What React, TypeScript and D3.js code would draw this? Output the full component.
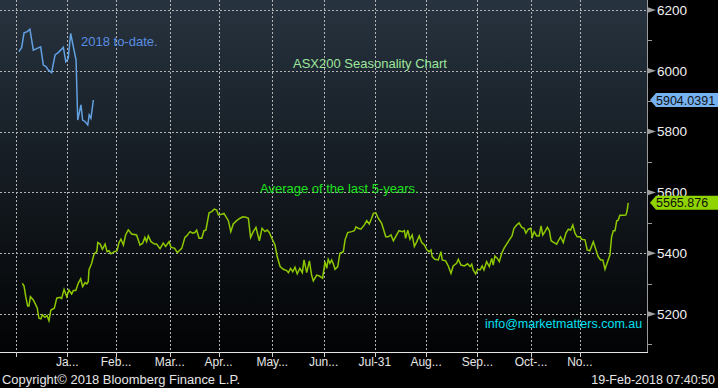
import { useEffect, useRef } from 'react';
import * as d3 from 'd3';

const width = 718;
const height = 388;

// seasonal year measured in trading days, first tick = start of December
const monthTicks = [0, 21, 41, 63, 83, 105, 126, 147, 168, 189, 211, 231];
const monthLabels = ['', 'Ja...', 'Feb...', 'Mar...', 'Apr...', 'May...', 'Jun...', 'Jul-31', 'Aug...', 'Sep...', 'Oct-...', 'No...'];

const majorTicks = [5200, 5400, 5600, 5800, 6000, 6200];
const minorTicks = [5100, 5300, 5500, 5700, 5900, 6100];

// [trading day, ASX200 level]
const ytd2018: [number, number][] = [
  [1.2, 6063], [2.3, 6076], [3.3, 6125], [4.6, 6129], [5.7, 6137], [7.1, 6068], [8.7, 6074],
  [10.1, 6079], [11.2, 6019], [12.3, 6014], [13.2, 6003], [14.6, 5994], [16.0, 6052], [17.3, 6060],
  [19.4, 6077], [20.4, 6030], [21.4, 6041], [22.4, 6123], [23.5, 6079], [24.6, 6036], [25.3, 5838],
  [26.6, 5888], [27.3, 5838], [28.3, 5833], [29.4, 5822], [30.0, 5855], [30.7, 5844], [31.7, 5904],
];

const avg5yr: [number, number][] = [
  [2.6, 5301], [3.3, 5292], [4.0, 5257], [4.8, 5226], [5.3, 5226], [5.9, 5257], [7.1, 5246],
  [8.1, 5230], [8.7, 5220], [9.4, 5186], [10.2, 5184], [10.8, 5197], [11.9, 5189], [12.7, 5195],
  [13.5, 5178], [14.3, 5213], [15.7, 5219], [16.7, 5252], [18.0, 5255], [18.7, 5251], [19.7, 5281],
  [20.8, 5257], [21.7, 5279], [22.8, 5266], [23.5, 5277], [24.5, 5277], [25.5, 5301], [26.5, 5316],
  [27.3, 5290], [28.3, 5303], [29.0, 5299], [29.6, 5306], [29.9, 5345], [31.0, 5367], [32.0, 5398],
  [33.1, 5405], [33.5, 5435], [34.5, 5430], [35.4, 5413], [36.5, 5430], [37.3, 5405], [38.1, 5408],
  [38.9, 5398], [40.3, 5405], [41.4, 5408], [42.2, 5435], [43.0, 5446], [44.0, 5427], [44.9, 5460],
  [46.0, 5477], [47.4, 5463], [49.4, 5460], [50.8, 5427], [51.9, 5433], [52.8, 5452], [53.5, 5438],
  [54.2, 5457], [55.3, 5438], [56.7, 5430], [57.6, 5430], [59.0, 5415], [60.3, 5433], [61.3, 5422],
  [62.7, 5438], [63.5, 5420], [65.0, 5416], [66.1, 5402], [67.9, 5416], [69.2, 5452], [69.9, 5457],
  [71.3, 5471], [72.4, 5466], [73.3, 5468], [74.0, 5476], [75.0, 5449], [76.1, 5449], [77.0, 5474],
  [77.8, 5476], [79.1, 5533], [80.2, 5537], [81.2, 5545], [82.2, 5542], [82.9, 5526], [84.3, 5528],
  [85.2, 5531], [86.0, 5520], [87.0, 5507], [88.0, 5471], [89.0, 5496], [90.4, 5507], [91.8, 5515],
  [92.9, 5520], [94.2, 5518], [95.2, 5515], [96.1, 5452], [97.2, 5471], [98.3, 5485], [99.7, 5441],
  [100.8, 5482], [102.0, 5471], [102.9, 5476], [103.8, 5468], [104.8, 5449], [106.1, 5427], [107.0, 5389],
  [108.2, 5356], [109.5, 5347], [110.9, 5343], [111.6, 5336], [112.5, 5350], [113.4, 5339], [114.3, 5354],
  [115.2, 5332], [116.3, 5350], [117.3, 5336], [118.0, 5378], [119.1, 5336], [120.2, 5375], [121.1, 5328],
  [121.8, 5309], [123.2, 5328], [124.3, 5325], [125.6, 5318], [126.6, 5372], [127.3, 5350], [127.9, 5380],
  [128.6, 5367], [129.3, 5378], [130.0, 5365], [130.7, 5347], [131.8, 5356], [132.7, 5400], [134.1, 5405],
  [134.8, 5444], [135.9, 5468], [137.5, 5471], [138.6, 5474], [139.3, 5487], [140.2, 5482], [141.3, 5479],
  [142.7, 5493], [143.7, 5507], [144.7, 5496], [145.7, 5515], [146.4, 5531], [147.4, 5533], [148.4, 5515],
  [149.8, 5498], [151.5, 5454], [152.5, 5454], [153.6, 5460], [154.6, 5441], [155.5, 5454], [156.9, 5474],
  [158.3, 5471], [159.1, 5474], [159.6, 5449], [160.5, 5476], [161.4, 5446], [162.3, 5460], [163.2, 5422],
  [164.2, 5438], [165.2, 5457], [166.2, 5435], [167.3, 5427], [168.3, 5411], [169.2, 5405], [170.0, 5411],
  [170.5, 5389], [171.6, 5380], [173.0, 5378], [174.1, 5405], [174.6, 5378], [176.0, 5375], [177.1, 5358],
  [178.2, 5334], [179.1, 5358], [180.5, 5367], [181.2, 5380], [182.3, 5361], [183.7, 5358], [185.0, 5365],
  [186.0, 5356], [186.7, 5364], [187.3, 5345], [188.3, 5332], [189.1, 5347], [190.1, 5345], [191.0, 5358],
  [191.7, 5345], [192.8, 5372], [193.9, 5356], [194.9, 5383], [195.5, 5361], [196.2, 5391], [197.2, 5383],
  [198.0, 5372], [199.0, 5400], [199.9, 5416], [201.0, 5430], [202.1, 5444], [203.2, 5457], [204.0, 5482],
  [205.1, 5493], [206.1, 5500], [207.2, 5485], [208.1, 5482], [208.9, 5466], [209.9, 5479], [210.9, 5482],
  [211.5, 5454], [212.3, 5471], [213.3, 5457], [214.3, 5457], [215.1, 5490], [215.8, 5460], [216.7, 5471],
  [217.7, 5485], [218.5, 5474], [219.2, 5441], [220.4, 5435], [221.5, 5430], [222.2, 5441], [223.1, 5454],
  [224.2, 5435], [225.3, 5466], [226.3, 5479], [227.2, 5476], [228.1, 5493], [229.0, 5466], [229.9, 5454],
  [231.1, 5454], [231.7, 5446], [233.1, 5444], [234.0, 5411], [235.1, 5408], [236.5, 5438], [237.6, 5411],
  [238.5, 5389], [239.5, 5378], [240.4, 5378], [241.3, 5347], [242.2, 5369], [243.3, 5394], [244.0, 5454],
  [244.7, 5474], [245.4, 5474], [246.1, 5507], [246.7, 5509], [247.4, 5525], [249.1, 5525], [249.9, 5526],
  [250.4, 5542], [250.8, 5565.876],
];

const lastYtd = '5904.0391';
const lastAvg = '5565.876';

const font = "'Liberation Sans', Arial, sans-serif";

const App = () => {
  const svgRef = useRef<SVGSVGElement>(null!);

  useEffect(() => {
    const svg = d3.select(svgRef.current);
    svg.attr('width', width).attr('height', height);
    const plotW = 647;
    const plotH = 352;

    const xScale = d3.scaleLinear().domain([-6.55, 258.5]).range([0, plotW]);
    const yScale = d3.scaleLinear().domain([5075, 6233]).range([plotH, 0]);

    const grad = svg
      .append('defs')
      .append('linearGradient')
      .attr('id', 'bg')
      .attr('x1', 0)
      .attr('y1', 0)
      .attr('x2', 0)
      .attr('y2', 1);
    grad.append('stop').attr('offset', '0%').attr('stop-color', '#27333f');
    grad.append('stop').attr('offset', '100%').attr('stop-color', '#020304');

    svg.append('rect').attr('width', width).attr('height', height).attr('fill', '#000');
    svg.append('rect').attr('width', plotW).attr('height', plotH).attr('fill', 'url(#bg)');

    // grid
    const grid = svg.append('g').attr('stroke', '#b4b4b4').attr('stroke-dasharray', '2,2').attr('shape-rendering', 'crispEdges');
    grid
      .selectAll('line.h')
      .data(majorTicks)
      .enter()
      .append('line')
      .attr('x1', 0)
      .attr('x2', plotW)
      .attr('y1', d => Math.round(yScale(d)) + 0.5)
      .attr('y2', d => Math.round(yScale(d)) + 0.5);
    grid
      .selectAll('line.v')
      .data(monthTicks)
      .enter()
      .append('line')
      .attr('y1', 0)
      .attr('y2', plotH)
      .attr('x1', d => Math.round(xScale(d)) + 0.5)
      .attr('x2', d => Math.round(xScale(d)) + 0.5);

    // series
    const line = d3
      .line<[number, number]>()
      .x(d => xScale(d[0]))
      .y(d => yScale(d[1]));
    svg.append('path').attr('d', line(avg5yr)).attr('fill', 'none').attr('stroke', '#8dc800').attr('stroke-width', 1.5);
    svg.append('path').attr('d', line(ytd2018)).attr('fill', 'none').attr('stroke', '#62a0e2').attr('stroke-width', 1.5);

    // annotations
    const note = (x: number, y: number, text: string, color: string, size: number) =>
      svg.append('text').attr('x', x).attr('y', y).attr('fill', color).attr('font-family', font).attr('font-size', size).text(text);
    note(81, 46, '2018 to-date.', '#5b8fe0', 13);
    note(293, 68, 'ASX200 Seasonality Chart', '#9de69d', 13);
    note(260, 192.5, 'Average of the last 5-years.', '#1ee21e', 13);
    note(485, 328, 'info@marketmatters.com.au', '#00e0f0', 12.5);

    // axes
    svg.append('line').attr('x1', plotW + 0.5).attr('x2', plotW + 0.5).attr('y1', 0).attr('y2', plotH + 1).attr('stroke', '#9a9a9a');
    svg.append('line').attr('x1', 0).attr('x2', plotW + 1).attr('y1', plotH + 0.5).attr('y2', plotH + 0.5).attr('stroke', '#e6e6e6');
    svg
      .selectAll('line.xt')
      .data(monthTicks)
      .enter()
      .append('line')
      .attr('x1', d => Math.round(xScale(d)) + 0.5)
      .attr('x2', d => Math.round(xScale(d)) + 0.5)
      .attr('y1', plotH)
      .attr('y2', plotH + 5)
      .attr('stroke', '#d0d0d0');
    svg
      .selectAll('text.xl')
      .data(monthTicks)
      .enter()
      .append('text')
      .attr('x', d => xScale(d))
      .attr('y', 366)
      .attr('text-anchor', 'middle')
      .attr('fill', '#e6e6e6')
      .attr('font-family', font)
      .attr('font-size', 12)
      .text((_, i) => monthLabels[i]);

    svg
      .selectAll('line.yt')
      .data(minorTicks)
      .enter()
      .append('line')
      .attr('x1', plotW)
      .attr('x2', plotW + 5)
      .attr('y1', d => Math.round(yScale(d)) + 0.5)
      .attr('y2', d => Math.round(yScale(d)) + 0.5)
      .attr('stroke', '#9a9a9a');
    svg
      .selectAll('path.yt')
      .data(majorTicks)
      .enter()
      .append('path')
      .attr('d', d => {
        const y = yScale(d);
        return `M${plotW},${y - 3}L${plotW + 9},${y}L${plotW},${y + 3}Z`;
      })
      .attr('fill', '#a0a0a0');
    svg
      .selectAll('text.yl')
      .data(majorTicks)
      .enter()
      .append('text')
      .attr('x', plotW + 10)
      .attr('y', d => yScale(d))
      .attr('dy', '0.36em')
      .attr('fill', '#f0f0f0')
      .attr('font-family', font)
      .attr('font-size', 13.5)
      .text(d => d);

    // last-value tags
    const tag = (value: number, text: string, fill: string) => {
      const y = yScale(value);
      svg
        .append('path')
        .attr('d', `M${plotW + 3},${y}L${plotW + 9},${y - 7}L${width},${y - 7}L${width},${y + 7}L${plotW + 9},${y + 7}Z`)
        .attr('fill', fill);
      svg
        .append('text')
        .attr('x', plotW + 9)
        .attr('y', y)
        .attr('dy', '0.36em')
        .attr('fill', '#101010')
        .attr('font-family', font)
        .attr('font-size', 12.5)
        .text(text);
    };
    tag(ytd2018[ytd2018.length - 1][1], lastYtd, '#76b2f0');
    tag(avg5yr[avg5yr.length - 1][1], lastAvg, '#8fd400');

    // footer
    svg
      .append('text')
      .attr('x', 2)
      .attr('y', 384)
      .attr('fill', '#e6e6e6')
      .attr('font-family', font)
      .attr('font-size', 12.5)
      .attr('textLength', 238)
      .attr('lengthAdjust', 'spacingAndGlyphs')
      .text('Copyright© 2018 Bloomberg Finance L.P.');
    svg
      .append('text')
      .attr('x', 715)
      .attr('y', 384)
      .attr('text-anchor', 'end')
      .attr('fill', '#e6e6e6')
      .attr('font-family', font)
      .attr('font-size', 12.5)
      .text('19-Feb-2018 07:40:50');

    return () => {
      svgRef.current.innerHTML = '';
    };
  }, []);

  return <svg ref={svgRef} style={{ position: 'absolute', left: 0, top: 0, display: 'block' }}></svg>;
};

export default App;
